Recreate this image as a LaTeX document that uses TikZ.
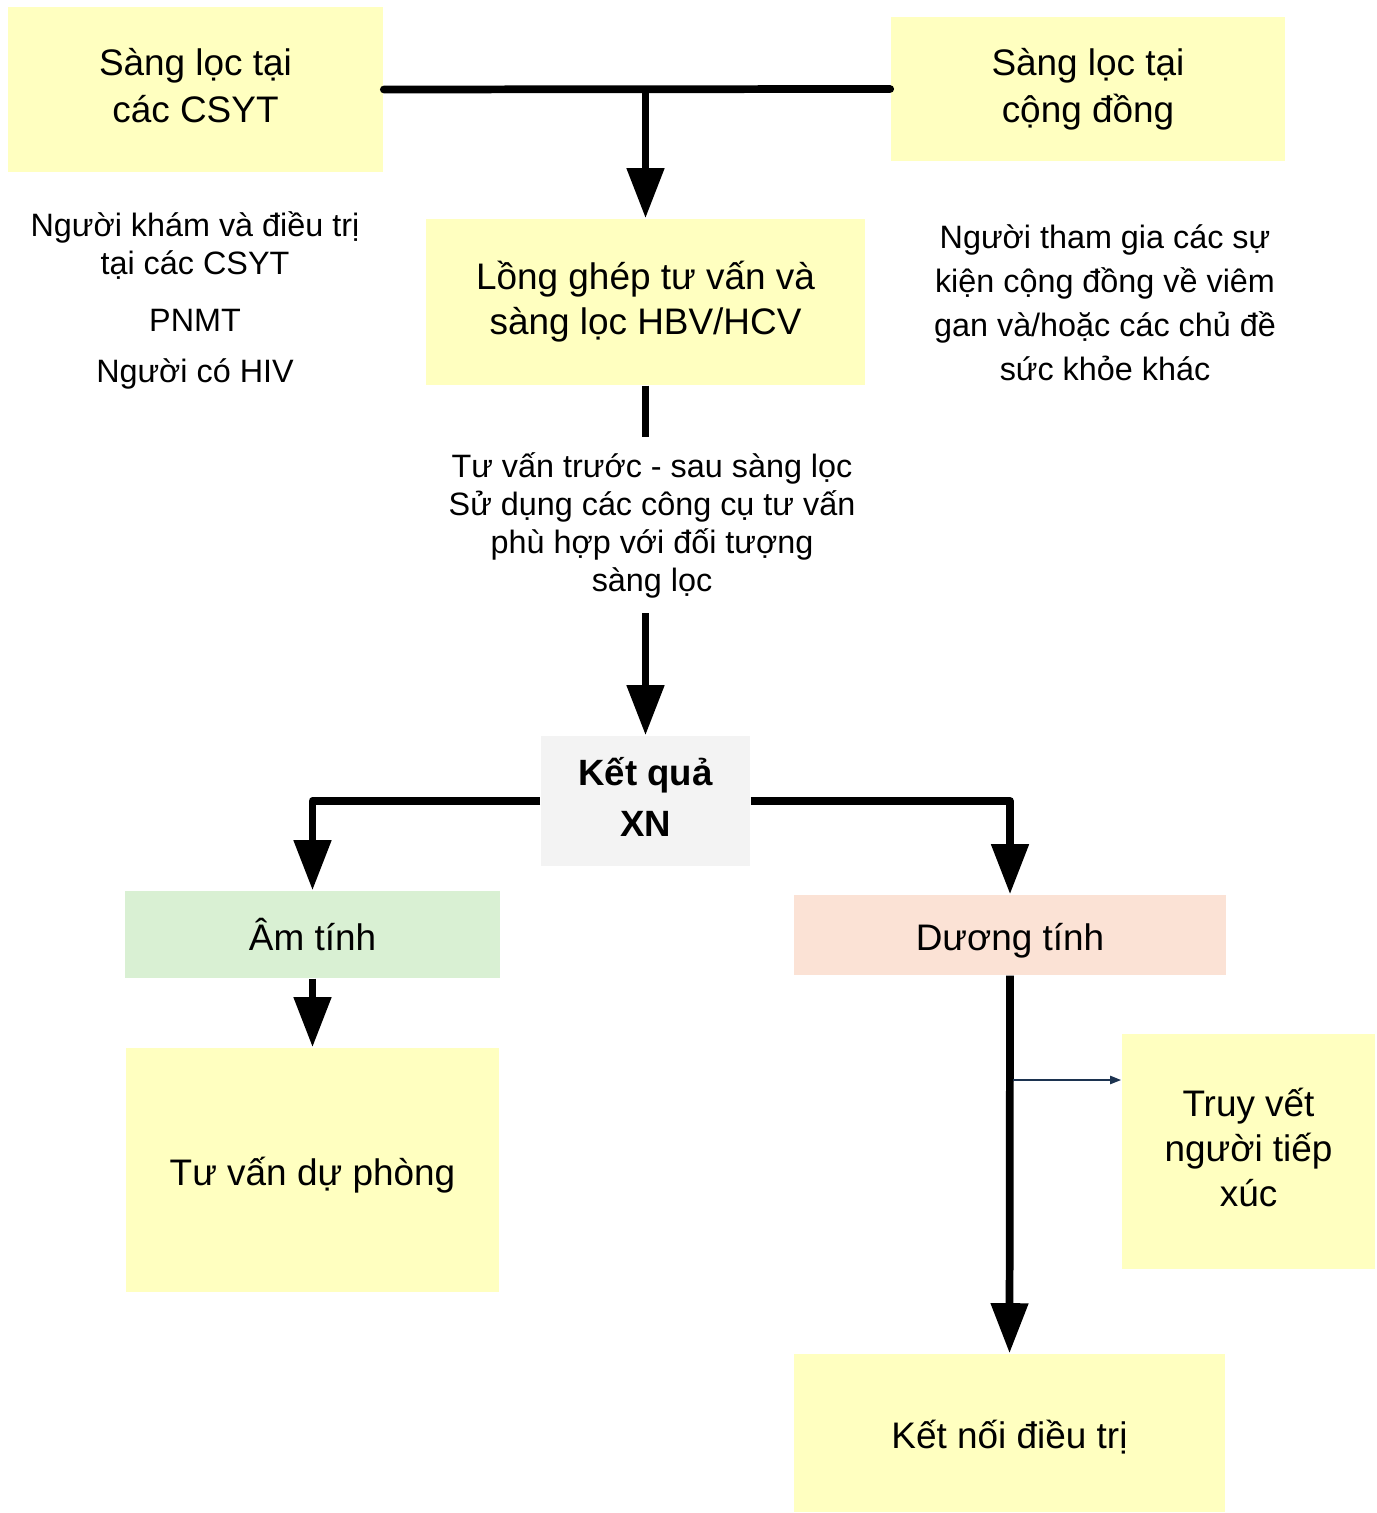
\documentclass[tikz,border=0pt]{standalone}
\usepackage{fontspec}
\setmainfont{Liberation Sans}
\usetikzlibrary{arrows.meta}

\definecolor{boxyellow}{HTML}{FFFFC0}
\definecolor{boxgray}{HTML}{F3F3F3}
\definecolor{boxgreen}{HTML}{D9F0D3}
\definecolor{boxpeach}{HTML}{FBE2D5}
\definecolor{linknavy}{HTML}{1C3350}
\newcommand{\boxstrut}{\rule[-0.17\baselineskip]{0pt}{\baselineskip}}

\begin{document}
\begin{tikzpicture}[x=0.01cm,y=-0.01cm,
    box/.style={fill=boxyellow, align=center, inner sep=0pt,
        font=\fontsize{10.5}{13.4}\selectfont,
        execute at begin node=\boxstrut, execute at end node=\boxstrut},
    note/.style={align=center, font=\fontsize{9.2}{10.8}\selectfont},
    flow/.style={line width=2.2pt, line join=round,
        -{Triangle[length=5mm,width=3.6mm]}},
    bar/.style={line width=2.2pt, line cap=round},
    link/.style={draw=linknavy, line width=0.6pt,
        -{Triangle[length=1.1mm,width=0.8mm]}}]
    \useasboundingbox (0,0) rectangle (1376,1513);

    % nguon sang loc
    \node[box, minimum width=3.75cm, minimum height=1.65cm] (csyt) at (195.5,89.5)
        {Sàng lọc tại\\các CSYT};
    \node[box, minimum width=3.94cm, minimum height=1.44cm] (congdong) at (1088,89)
        {Sàng lọc tại\\cộng đồng};
    \node[note] (doituong) at (195,246) {Người khám và điều trị\\tại các CSYT};
    \node[note] (pnmt) at (195,320) {PNMT};
    \node[note] (hiv) at (195,374) {Người có HIV};
    \node[note, font=\fontsize{9.2}{12.5}\selectfont] (sukien) at (1105,303)
        {Người tham gia các sự\\kiện cộng đồng về viêm\\gan và/hoặc các chủ đề\\sức khỏe khác};

    \node[box, font=\fontsize{10.5}{12.8}\selectfont, minimum width=4.39cm,
        minimum height=1.66cm] (longghep) at (645.5,302)
        {Lồng ghép tư vấn và\\sàng lọc HBV/HCV};
    \node[note, inner sep=0.15cm] (tuvan) at (652,525)
        {Tư vấn trước - sau sàng lọc\\Sử dụng các công cụ tư vấn\\phù hợp với đối tượng\\sàng lọc};

    % ket qua
    \node[box, fill=boxgray, minimum width=2.09cm, minimum height=1.3cm,
        font=\fontsize{10.4}{14.5}\selectfont\bfseries] (ketqua) at (645.5,801)
        {Kết quả\\XN};
    \node[box, fill=boxgreen, minimum width=3.75cm, minimum height=0.87cm] (amtinh) at (312.5,934.5)
        {Âm tính};
    \node[box, fill=boxpeach, minimum width=4.32cm, minimum height=0.8cm] (duongtinh) at (1010,935)
        {Dương tính};
    \node[box, minimum width=3.73cm, minimum height=2.44cm] (duphong) at (312.5,1170)
        {Tư vấn dự phòng};
    \node[box, font=\fontsize{10.5}{12.8}\selectfont, minimum width=2.53cm,
        minimum height=2.35cm] (truyvet) at (1248.5,1151.5)
        {Truy vết\\người tiếp\\xúc};
    \node[box, minimum width=4.31cm, minimum height=1.58cm] (ketnoi) at (1009.5,1433)
        {Kết nối điều trị};

    % duong noi
    \draw[bar] (csyt.east) -- (congdong.west);
    \coordinate (nhanh) at (longghep.north |- csyt.east);
    \draw[flow] (nhanh) -- (longghep.north);
    \draw[line width=2.2pt] (longghep.south) -- (longghep.south |- tuvan.north);
    \draw[flow] (longghep.south |- tuvan.south) -- (ketqua.north);
    \draw[flow] (ketqua.west) -| (amtinh.north);
    \draw[flow] (ketqua.east) -| (duongtinh.north);
    \draw[flow] (amtinh.south) -- (duphong.north);
    \draw[flow] (duongtinh.south) -- (ketnoi.north);
    \coordinate (re) at (1013,1080);
    \draw[link] (re) -- (re -| truyvet.west);
\end{tikzpicture}
\end{document}
